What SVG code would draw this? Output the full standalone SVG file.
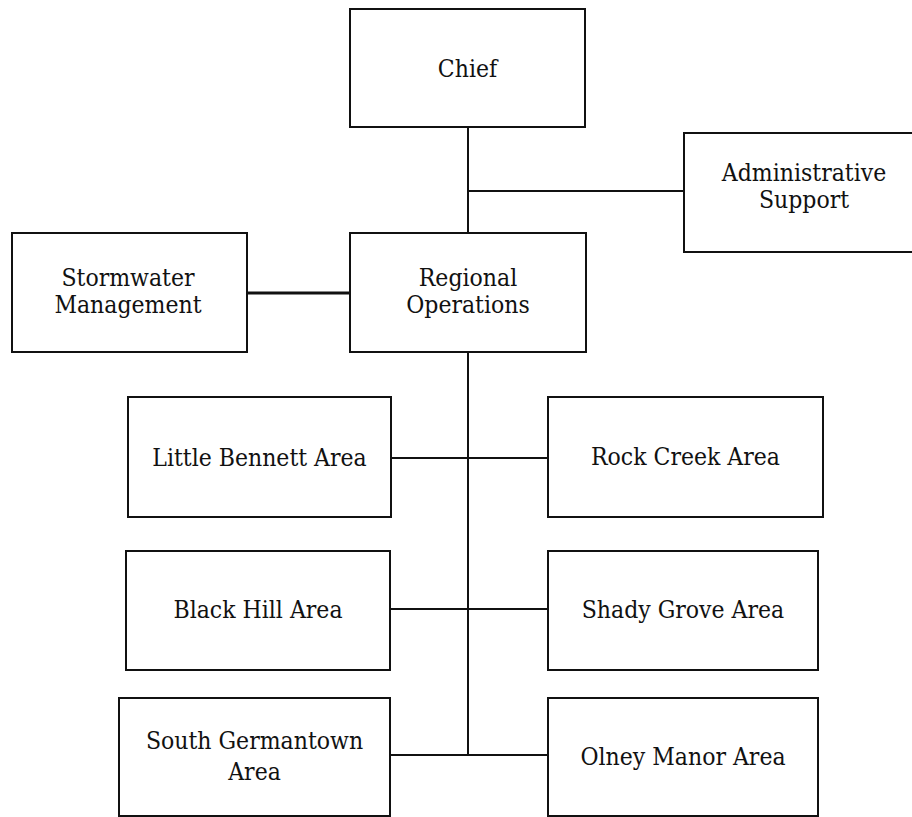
<svg xmlns="http://www.w3.org/2000/svg" width="912" height="817" viewBox="0 0 912 817">
  <style>
    .box { fill: #ffffff; stroke: #111111; stroke-width: 2; }
    .lbl { font-family: "DejaVu Serif", "Liberation Serif", serif; font-stretch: semi-condensed; font-size: 24.5px; fill: #111111; text-anchor: middle; }
    .wire { stroke: #111111; stroke-width: 2; fill: none; }
    .wire.heavy { stroke-width: 3; }
  </style>
  <rect width="912" height="817" fill="#ffffff"/>

  <g id="connectors">
    <line class="wire" x1="468" y1="127" x2="468" y2="233"/>
    <line class="wire" x1="468" y1="191" x2="684" y2="191"/>
    <line class="wire heavy" x1="247" y1="293" x2="350" y2="293"/>
    <line class="wire" x1="468" y1="352" x2="468" y2="755"/>
    <line class="wire" x1="391" y1="458" x2="548" y2="458"/>
    <line class="wire" x1="390" y1="609" x2="548" y2="609"/>
    <line class="wire" x1="390" y1="755" x2="548" y2="755"/>
  </g>

  <g id="chief">
    <rect class="box" x="350" y="9" width="235" height="118"/>
    <text class="lbl" x="467.5" y="77">Chief</text>
  </g>
  <g id="administrative-support">
    <rect class="box" x="684" y="133" width="240" height="119"/>
    <text class="lbl" x="804" y="181">Administrative</text>
    <text class="lbl" x="804" y="208">Support</text>
  </g>
  <g id="stormwater-management">
    <rect class="box" x="12" y="233" width="235" height="119"/>
    <text class="lbl" x="128" y="286">Stormwater</text>
    <text class="lbl" x="128" y="313">Management</text>
  </g>
  <g id="regional-operations">
    <rect class="box" x="350" y="233" width="236" height="119"/>
    <text class="lbl" x="468" y="286">Regional</text>
    <text class="lbl" x="468" y="313">Operations</text>
  </g>
  <g id="little-bennett">
    <rect class="box" x="128" y="397" width="263" height="120"/>
    <text class="lbl" x="259.5" y="466">Little Bennett Area</text>
  </g>
  <g id="rock-creek">
    <rect class="box" x="548" y="397" width="275" height="120"/>
    <text class="lbl" x="685.5" y="465">Rock Creek Area</text>
  </g>
  <g id="black-hill">
    <rect class="box" x="126" y="551" width="264" height="119"/>
    <text class="lbl" x="258" y="618">Black Hill Area</text>
  </g>
  <g id="shady-grove">
    <rect class="box" x="548" y="551" width="270" height="119"/>
    <text class="lbl" x="683" y="618">Shady Grove Area</text>
  </g>
  <g id="south-germantown">
    <rect class="box" x="119" y="698" width="271" height="118"/>
    <text class="lbl" x="254.5" y="749">South Germantown</text>
    <text class="lbl" x="254.5" y="780">Area</text>
  </g>
  <g id="olney-manor">
    <rect class="box" x="548" y="698" width="270" height="118"/>
    <text class="lbl" x="683" y="765">Olney Manor Area</text>
  </g>
</svg>
